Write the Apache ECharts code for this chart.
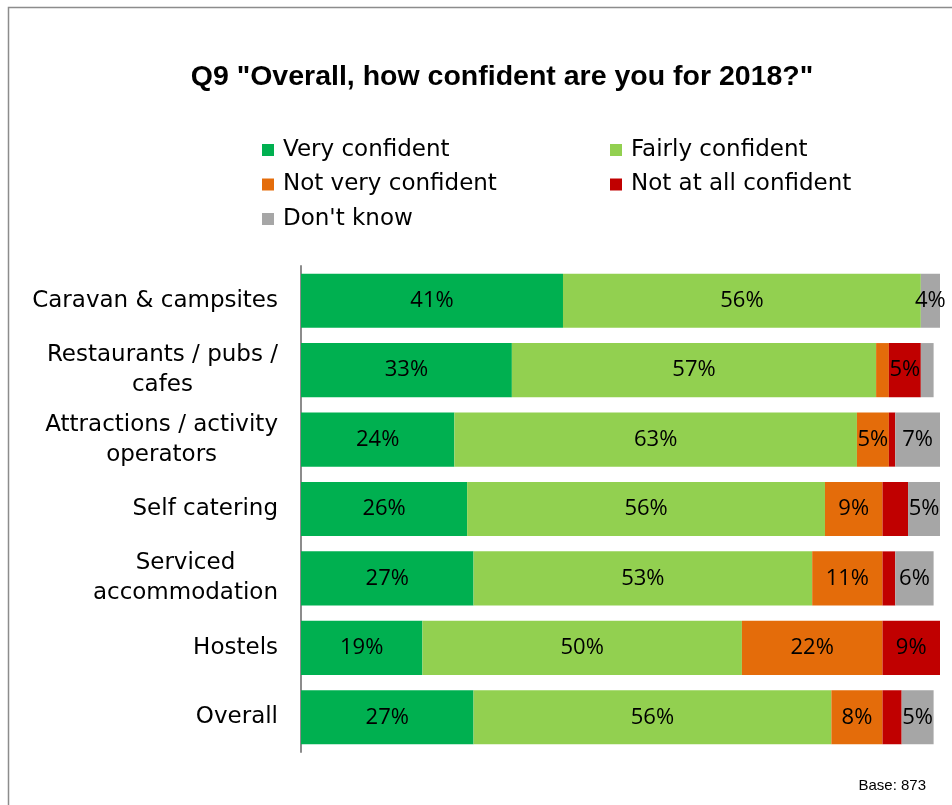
<!DOCTYPE html>
<html>
<head>
<meta charset="utf-8">
<script src="https://cdn.jsdelivr.net/npm/echarts@6/dist/echarts.min.js"></script>
<style>
  html, body { margin: 0; padding: 0; background: #ffffff; }
  #chart { width: 952px; height: 805px; }
</style>
</head>
<body>
<div id="chart"></div>
<script>
// Survey responses (% of businesses) by sector
const categories = [
  'Caravan & campsites',
  'Restaurants / pubs /\ncafes',
  'Attractions / activity\noperators',
  'Self catering',
  'Serviced\naccommodation',
  'Hostels',
  'Overall'
];
const seriesNames = ['Very confident', 'Fairly confident', 'Not very confident', 'Not at all confident', "Don't know"];
const veryConfident    = [41, 33, 24, 26, 27, 19, 27];
const fairlyConfident  = [56, 57, 63, 56, 53, 50, 56];
const notVeryConfident = [0, 2, 5, 9, 11, 22, 8];
const notAtAll         = [0, 5, 1, 4, 2, 9, 3];
const dontKnow         = [4, 2, 7, 5, 6, 0, 5];
const baseCount = 873;

const values = [veryConfident, fairlyConfident, notVeryConfident, notAtAll, dontKnow];
const colors = ['#00B050', '#92D050', '#E46C0A', '#C00000', '#A6A6A6'];
// Segments too narrow to carry a data label
const minLabelled = 4;
const unlabelled = [['Self catering', 'Not at all confident']];

const chart = echarts.init(document.getElementById('chart'), null, { renderer: 'canvas' });

const series = seriesNames.map((name, si) => ({
  name,
  type: 'bar',
  stack: 'total',
  barCategoryGap: '22%',
  itemStyle: { color: colors[si] },
  label: {
    show: true,
    position: 'inside',
    formatter: '{c}%',
    color: '#000000',
    fontFamily: 'Open Sans',
    fontSize: 22
  },
  data: values[si].map((v, ci) => {
    const hide = v < minLabelled || unlabelled.some(p => p[0] === categories[ci] && p[1] === name);
    return hide ? { value: v, label: { show: false } } : v;
  })
}));

const legendText = { fontFamily: 'DejaVu Sans', fontSize: 23, color: '#000000', lineHeight: 24, padding: [0, 0, 0, 4] };

chart.setOption({
  animation: false,
  backgroundColor: '#ffffff',
  color: colors,
  title: {
    text: 'Q9 "Overall, how confident are you for 2018?"',
    left: 497,
    top: 58,
    textAlign: 'center',
    textStyle: { fontFamily: 'Liberation Sans', fontWeight: 'bold', fontSize: 28.5, color: '#000000' }
  },
  legend: [
    {
      orient: 'vertical', left: 262, top: 138, padding: 0, itemWidth: 12, itemHeight: 12, itemGap: 10.5,
      icon: 'rect', selectedMode: false, textStyle: legendText,
      data: [seriesNames[0], seriesNames[2], seriesNames[4]]
    },
    {
      orient: 'vertical', left: 610, top: 138, padding: 0, itemWidth: 12, itemHeight: 12, itemGap: 10.5,
      icon: 'rect', selectedMode: false, textStyle: legendText,
      data: [seriesNames[1], seriesNames[3]]
    }
  ],
  grid: { left: 301, right: 12, top: 266, bottom: 53, containLabel: false },
  xAxis: {
    type: 'value', min: 0, max: 100, show: false
  },
  yAxis: {
    type: 'category',
    data: categories,
    inverse: true,
    axisLine: { show: true, lineStyle: { color: '#8C8C8C', width: 2 } },
    axisTick: { show: false },
    axisLabel: {
      margin: 23,
      fontFamily: 'DejaVu Sans',
      fontSize: 23,
      color: '#000000',
      lineHeight: 30,
      formatter: v => v.split('\n').map(s => '{c|' + s + '}').join('\n'),
      rich: { c: { align: 'center', fontFamily: 'DejaVu Sans', fontSize: 23, lineHeight: 30, color: '#000000' } }
    }
  },
  graphic: [
    {
      type: 'rect', silent: true,
      shape: { x: 8.5, y: 7.5, width: 1000, height: 1000 },
      style: { fill: 'none', stroke: '#8C8C8C', lineWidth: 1.5 }
    },
    {
      type: 'text', right: 26, bottom: 12,
      style: { text: 'Base: ' + baseCount, font: '15px "Liberation Sans"', fill: '#000000' }
    }
  ],
  series
});
</script>
</body>
</html>
